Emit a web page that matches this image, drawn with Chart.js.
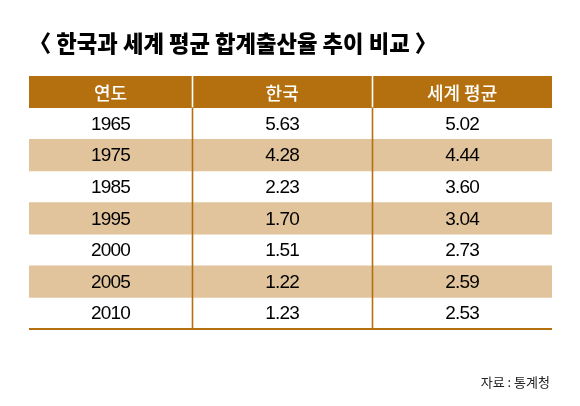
<!DOCTYPE html>
<html>
<head>
<meta charset="utf-8">
<script src="https://cdn.jsdelivr.net/npm/chart.js@4"></script>
<style>
  html, body { margin: 0; padding: 0; background: #fff; }
  #wrap { width: 580px; height: 406px; }
</style>
</head>
<body>
<div id="wrap"><canvas id="tableChart"></canvas></div>
<script>
const title = '〈 한국과 세계 평균 합계출산율 추이 비교 〉';
const source = '자료 : 통계청';
const headers = ['연도', '한국', '세계 평균'];
const years = ['1965', '1975', '1985', '1995', '2000', '2005', '2010'];
const korea = [5.63, 4.28, 2.23, 1.70, 1.51, 1.22, 1.23];
const world = [5.02, 4.44, 3.60, 3.04, 2.73, 2.59, 2.53];

// layout / style
const colEdges = [0, 0.312, 0.656, 1];
const brown = '#b4700f';
const band = '#e2c49c';
const cjk = '"Noto Sans CJK KR", "Noto Sans", sans-serif';
const narrow = '"Liberation Sans Narrow", "Liberation Sans", Arial, sans-serif';

const rows = ['header', ...years];

const tablePlugin = {
    id: 'tableText',
    afterDatasetsDraw(chart) {
        const ctx = chart.ctx;
        const xs = chart.scales.x;
        const ys = chart.scales.y;
        const area = chart.chartArea;
        const rowH = ys.getPixelForValue(1) - ys.getPixelForValue(0);
        const headBottom = ys.getPixelForValue(0) + rowH / 2;

        ctx.save();
        // column dividers
        ctx.lineWidth = 1.6;
        colEdges.slice(1, -1).forEach(e => {
            const x = Math.round(xs.getPixelForValue(e)) + 0.5;
            ctx.strokeStyle = '#ffffff';
            ctx.beginPath();
            ctx.moveTo(x, area.top);
            ctx.lineTo(x, headBottom);
            ctx.stroke();
            ctx.strokeStyle = brown;
            ctx.beginPath();
            ctx.moveTo(x, headBottom);
            ctx.lineTo(x, area.bottom);
            ctx.stroke();
        });
        // bottom rule
        ctx.strokeStyle = brown;
        ctx.lineWidth = 2;
        ctx.beginPath();
        ctx.moveTo(area.left, area.bottom);
        ctx.lineTo(area.right, area.bottom);
        ctx.stroke();

        const colX = c => xs.getPixelForValue((colEdges[c] + colEdges[c + 1]) / 2);
        ctx.textAlign = 'center';
        ctx.textBaseline = 'middle';

        // header text
        ctx.fillStyle = '#ffffff';
        ctx.font = '500 18px ' + cjk;
        headers.forEach((h, c) => ctx.fillText(h, colX(c), ys.getPixelForValue(0) + 1));

        // body text
        ctx.fillStyle = '#000000';
        ctx.font = '19px ' + narrow;
        ctx.letterSpacing = '-0.8px';
        years.forEach((yr, i) => {
            const y = ys.getPixelForValue(i + 1) + 1;
            ctx.fillText(yr, colX(0), y);
            ctx.fillText(korea[i].toFixed(2), colX(1), y);
            ctx.fillText(world[i].toFixed(2), colX(2), y);
        });
        ctx.letterSpacing = '0px';

        // title
        ctx.textAlign = 'left';
        ctx.fillStyle = '#000000';
        ctx.font = '900 23px ' + cjk;
        const tw = ctx.measureText(title).width;
        const want = 408;
        ctx.save();
        ctx.translate(area.left, 43);
        ctx.scale(want / tw, 1);
        ctx.fillText(title, 0, 0);
        ctx.restore();

        // source
        ctx.textAlign = 'right';
        ctx.font = '13px ' + cjk;
        ctx.fillStyle = '#222222';
        ctx.fillText(source, area.right - 2, 382);
        ctx.restore();
    }
};

new Chart(document.getElementById('tableChart'), {
    type: 'bar',
    data: {
        labels: rows,
        datasets: [
            {
                label: 'header',
                data: rows.map((r, i) => i === 0 ? [0, 1] : null),
                backgroundColor: brown
            },
            {
                label: 'band',
                data: rows.map((r, i) => (i > 0 && i % 2 === 0) ? [0, 1] : null),
                backgroundColor: band
            }
        ]
    },
    options: {
        indexAxis: 'y',
        responsive: true,
        maintainAspectRatio: false,
        animation: false,
        layout: { padding: { left: 29, right: 28, top: 76, bottom: 77 } },
        datasets: {
            bar: {
                grouped: false,
                barPercentage: 1,
                categoryPercentage: 1,
                borderWidth: 0
            }
        },
        scales: {
            x: { type: 'linear', min: 0, max: 1, display: false },
            y: { type: 'category', display: false }
        },
        plugins: {
            legend: { display: false },
            tooltip: { enabled: false }
        }
    },
    plugins: [tablePlugin]
});
</script>
</body>
</html>
